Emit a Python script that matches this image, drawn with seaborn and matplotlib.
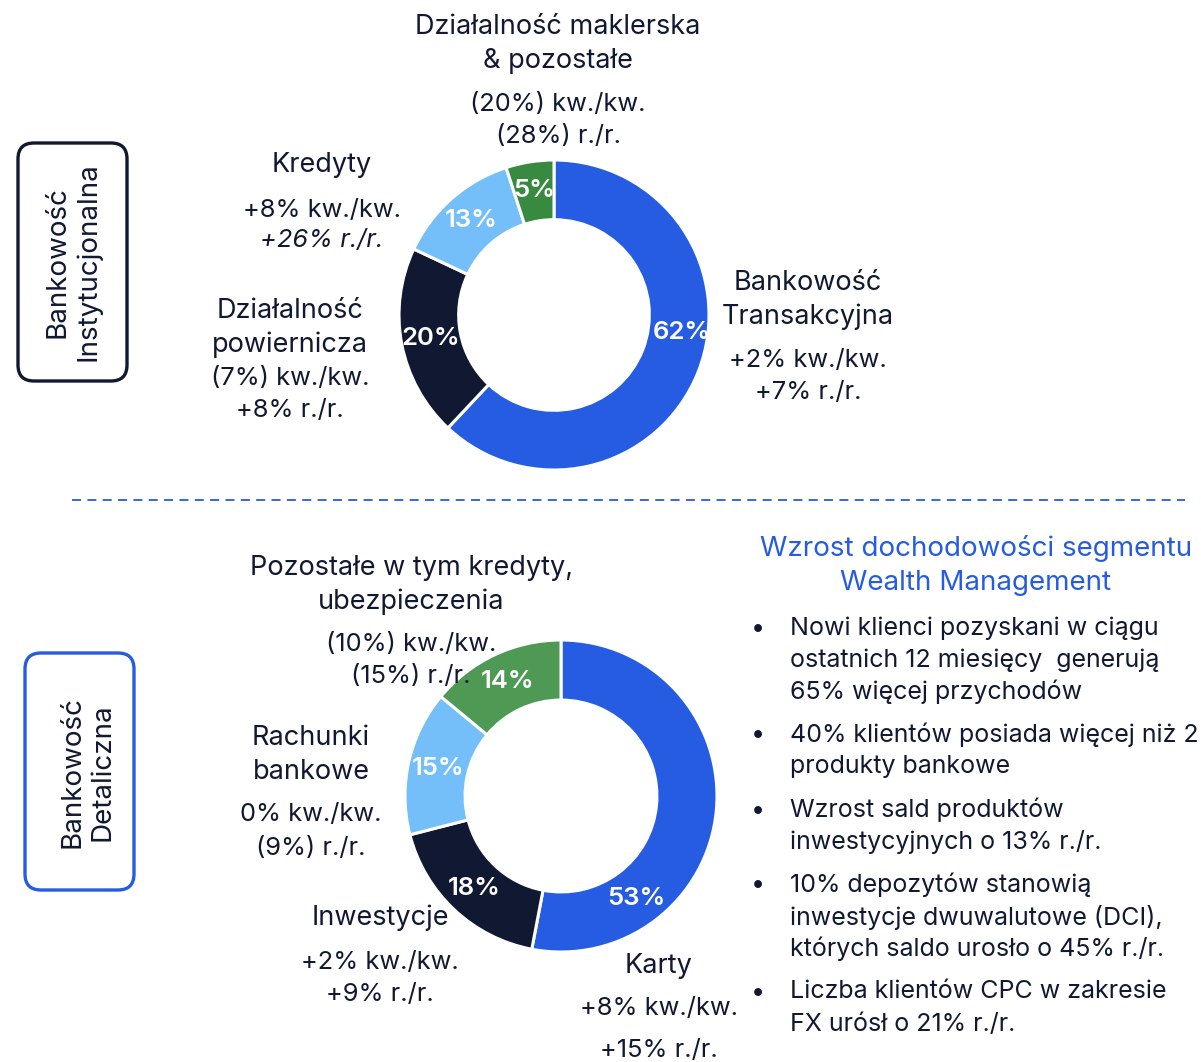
import matplotlib
matplotlib.use("Agg")
import matplotlib.pyplot as plt
import seaborn as sns
from matplotlib.patches import FancyBboxPatch

sns.set_theme(style="white")
plt.rcParams['font.family'] = ['Inter', 'DejaVu Sans']

# -----------------------------------------------
# DATA
# -----------------------------------------------
inst_labels = ["Bankowość\nTransakcyjna", "Działalność\npowiernicza", "Kredyty",
               "Działalność maklerska\n& pozostałe"]
inst_share = [62, 20, 13, 5]
inst_qoq = ["+2%", "(7%)", "+8%", "(20%)"]
inst_yoy = ["+7%", "+8%", "+26%", "(28%)"]

retail_labels = ["Karty", "Inwestycje", "Rachunki\nbankowe",
                 "Pozostałe w tym kredyty,\nubezpieczenia"]
retail_share = [53, 18, 15, 14]
retail_qoq = ["+8%", "+2%", "0%", "(10%)"]
retail_yoy = ["+15%", "+9%", "(9%)", "(15%)"]

wm_title = "Wzrost dochodowości segmentu\nWealth Management"
wm_points = [
    "Nowi klienci pozyskani w ciągu\nostatnich 12 miesięcy  generują\n65% więcej przychodów",
    "40% klientów posiada więcej niż 2\nprodukty bankowe",
    "Wzrost sald produktów\ninwestycyjnych o 13% r./r.",
    "10% depozytów stanowią\ninwestycje dwuwalutowe (DCI),\nktórych saldo urosło o 45% r./r.",
    "Liczba klientów CPC w zakresie\nFX urósł o 21% r./r.",
]

# -----------------------------------------------
# STYLE
# -----------------------------------------------
NAVY = "#111831"
BLUE = "#255CE1"
LIGHT = "#74BFF9"
inst_colors = [BLUE, NAVY, LIGHT, "#378A3F"]
retail_colors = [BLUE, NAVY, LIGHT, "#4E9A55"]
LABEL_FS = 19.5
STAT_FS = 18.3
BODY_FS = 18
TITLE_FS = 20
PCT_FS = 18.5
BOX_FS = 20

W, H = 1201, 1062
fig = plt.figure(figsize=(W / 100, H / 100), dpi=100)


def donut(cx, cy, r, share, colors, first_pos):
    ax = fig.add_axes([(cx - r) / W, (H - cy - r) / H, 2 * r / W, 2 * r / H])
    wedges, texts, autotexts = ax.pie(
        share, colors=colors, startangle=90, counterclock=False,
        autopct=lambda p: f"{p:.0f}%", pctdistance=0.81,
        wedgeprops=dict(width=0.385, edgecolor='white', linewidth=2.2),
        textprops=dict(color='white', fontsize=PCT_FS, fontweight='semibold'))
    autotexts[0].set_position(first_pos)
    ax.set_xlim(-1, 1)
    ax.set_ylim(-1, 1)
    ax.set_aspect('equal')
    ax.axis('off')
    return ax


donut(554, 315, 155, inst_share, inst_colors, (0.826, -0.116))
donut(561, 796, 156, retail_share, retail_colors, (0.48, -0.654))

# overlay in pixel coordinates
ov = fig.add_axes([0, 0, 1, 1], zorder=5)
ov.set_xlim(0, W)
ov.set_ylim(H, 0)
ov.axis('off')
ov.patch.set_alpha(0)


def lines(x, y, txt, step, fs=LABEL_FS, color=NAVY, style='normal', ha='center'):
    for i, line in enumerate(txt.split("\n")):
        ov.text(x, y + 2 + i * step, line, ha=ha, va='center', fontsize=fs,
                color=color, style=style)


# label blocks: (x, y of name, y of stats, stats step)
inst_pos = [(808, 281, 359, 32), (290, 309, 376, 32), (322, 163, 208, 31), (558, 25, 102, 32)]
retail_pos = [(659, 964, 1007, 41), (380, 916, 960, 32), (311, 736, 813, 33), (411, 566, 643, 32)]

for labels, qoq, yoy, pos in [(inst_labels, inst_qoq, inst_yoy, inst_pos),
                              (retail_labels, retail_qoq, retail_yoy, retail_pos)]:
    for name, q, y, (x, yn, ys, st) in zip(labels, qoq, yoy, pos):
        lines(x, yn, name, 34)
        lines(x, ys, q + " kw./kw.", st, fs=STAT_FS)
        lines(x, ys + st, y + " r./r.", st, fs=STAT_FS,
              style='italic' if y == "+26%" else 'normal')

# dashed separator
ov.plot([72, 1185], [500, 500], color=BLUE, lw=1.3, ls=(0, (5, 3.5)))

# segment boxes
ov.add_patch(FancyBboxPatch((18, 143), 109, 238, boxstyle="round,pad=0,rounding_size=16",
                            fill=False, edgecolor=NAVY, lw=2.4))
ov.text(73, 262, "Bankowość\nInstytucjonalna", rotation=90, ha='center', va='center',
        fontsize=BOX_FS, color=NAVY, multialignment='center', linespacing=1.2)
ov.add_patch(FancyBboxPatch((25, 653), 109, 237, boxstyle="round,pad=0,rounding_size=16",
                            fill=False, edgecolor=BLUE, lw=2.4))
ov.text(88, 772, "Bankowość\nDetaliczna", rotation=90, ha='center', va='center',
        fontsize=BOX_FS, color=NAVY, multialignment='center', linespacing=1.2)

# wealth management panel
lines(976, 546, wm_title, 35, fs=TITLE_FS, color=BLUE)
y = 626
for pt in wm_points:
    ov.text(758, y + 2, "•", ha='center', va='center', fontsize=BODY_FS, color=NAVY)
    lines(790, y, pt, 32, fs=BODY_FS, ha='left')
    y += 32 * len(pt.split("\n")) + 11

fig.savefig("out.png", dpi=100)
